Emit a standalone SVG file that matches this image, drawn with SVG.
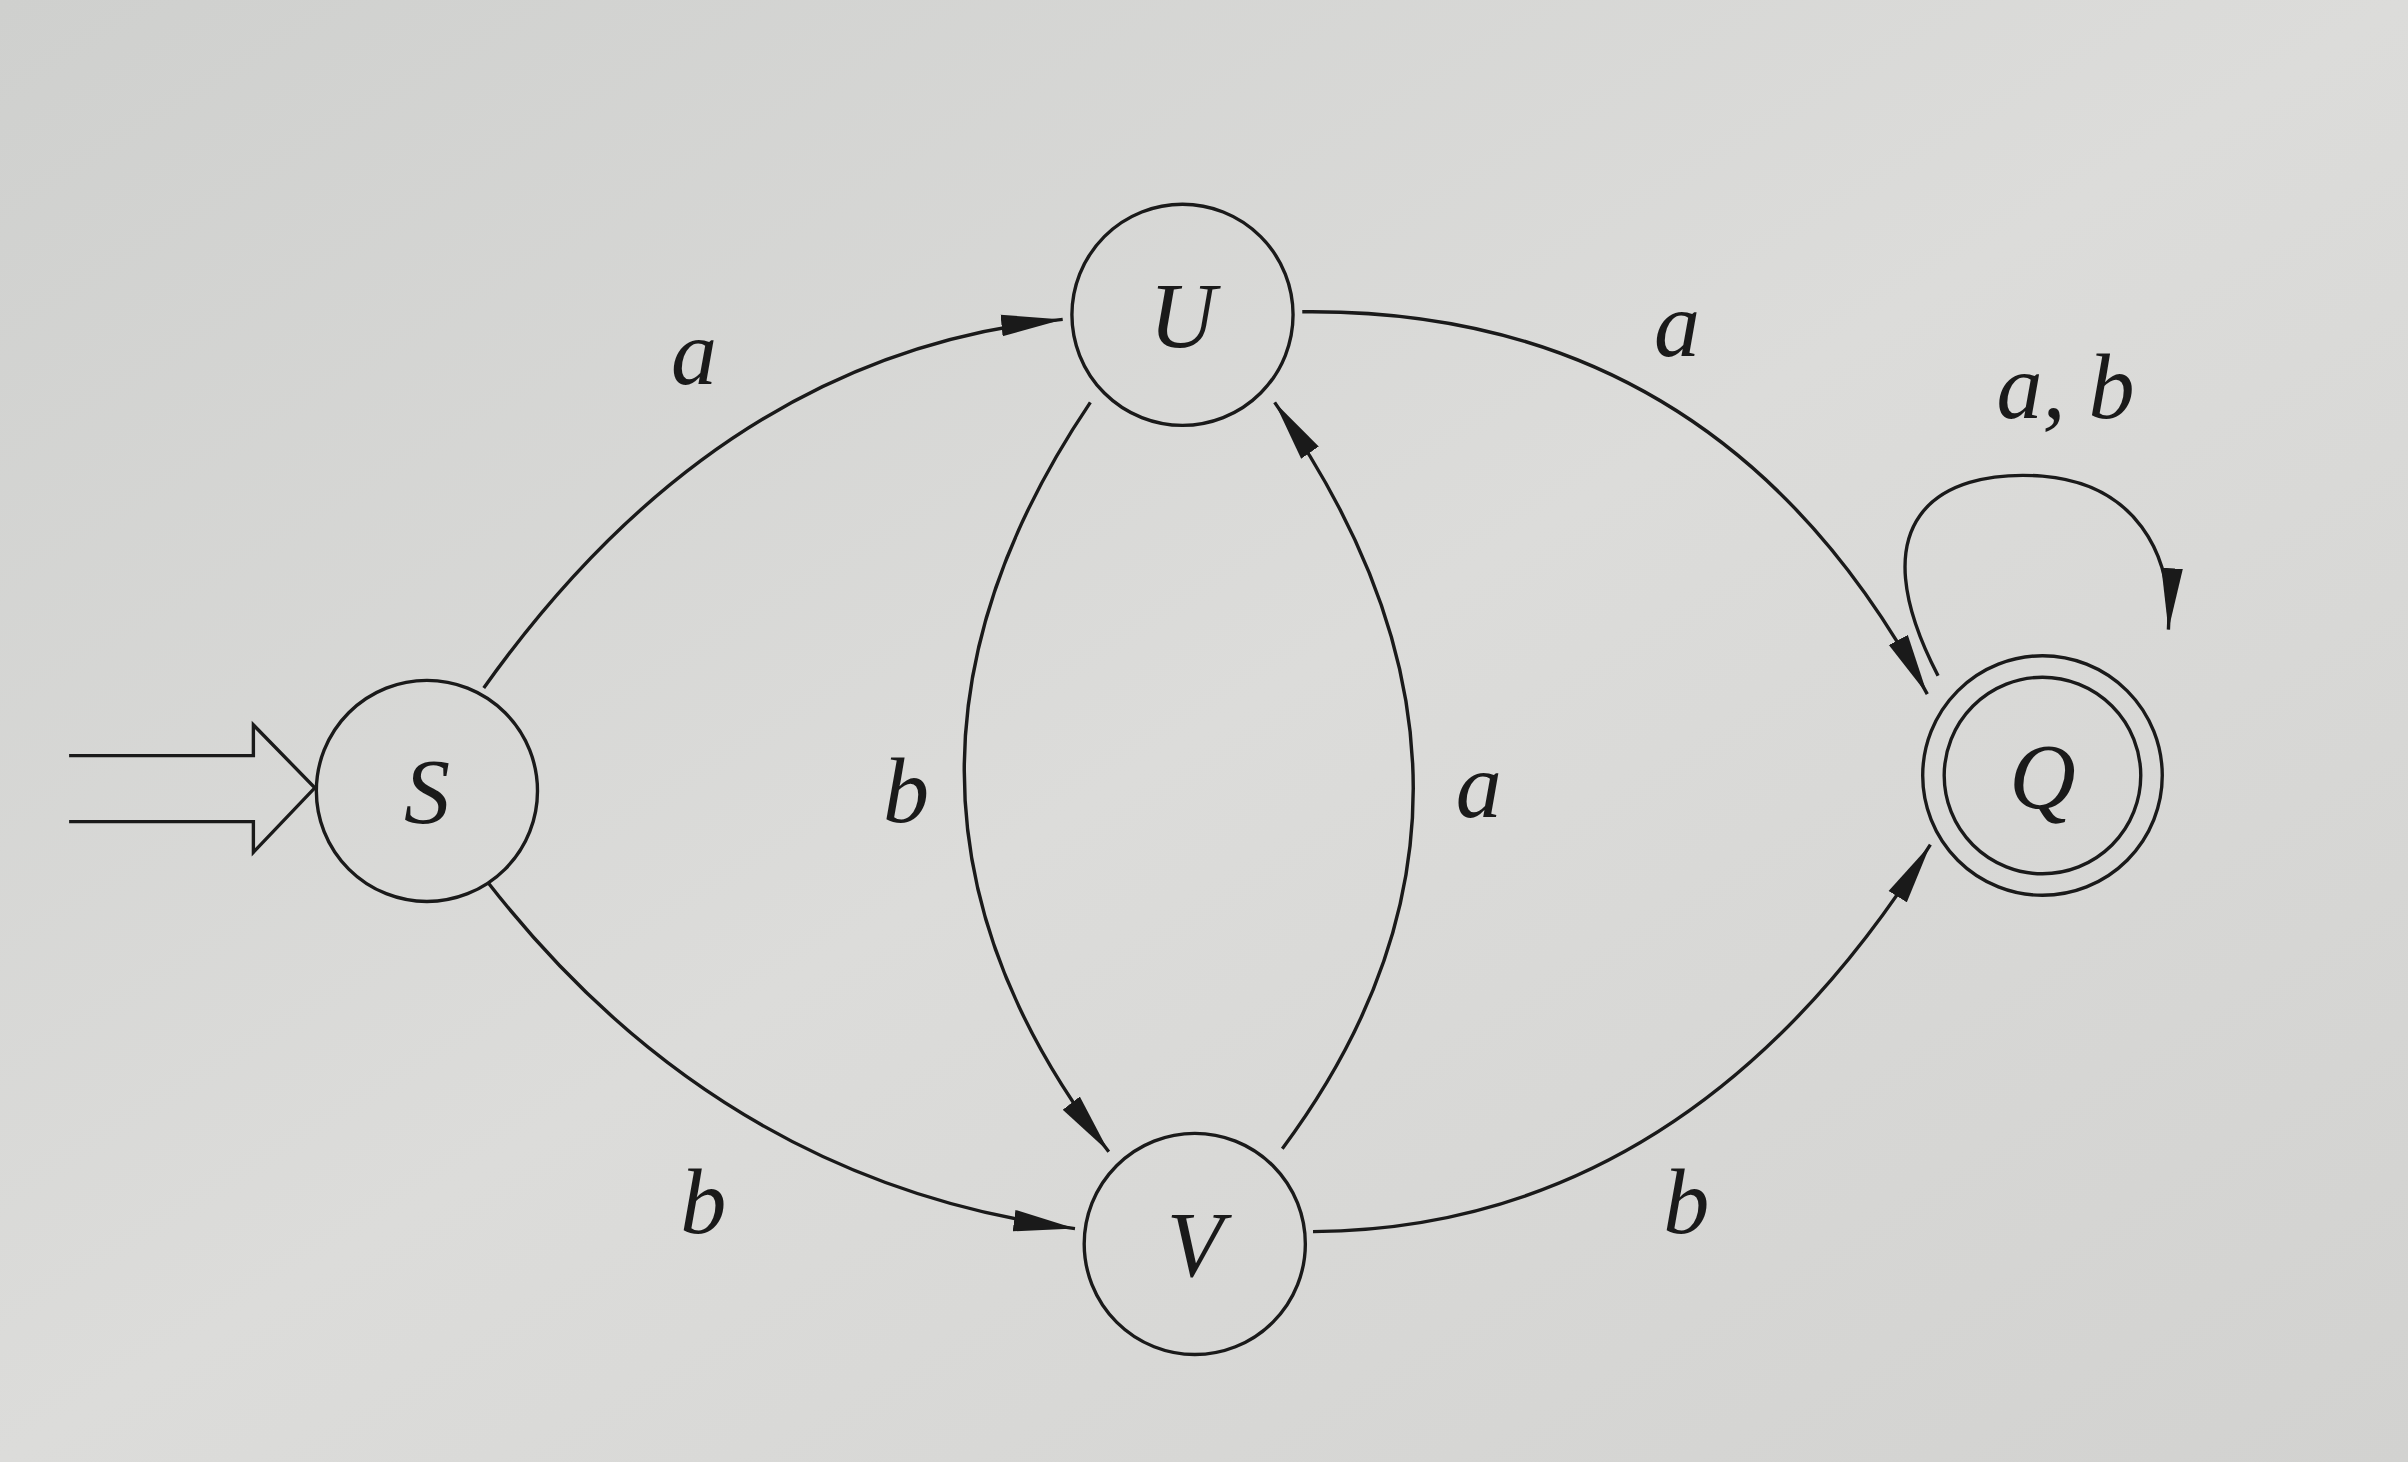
<svg xmlns="http://www.w3.org/2000/svg" width="2408" height="1462" viewBox="0 0 2408 1462">
<defs>
<marker id="ah" viewBox="0 0 40 16" refX="40" refY="8" markerWidth="40" markerHeight="16" markerUnits="userSpaceOnUse" orient="auto"><path d="M0,1 L40,8 L0,15 z" fill="#1a1a1a"/></marker>
<linearGradient id="bg" x1="0" y1="0" x2="1" y2="1"><stop offset="0" stop-color="#cfd0ce"/><stop offset="0.5" stop-color="#dcdcda"/><stop offset="1" stop-color="#d2d2d0"/></linearGradient>
</defs>
<style>
.n{fill:none;stroke:#1a1a1a;stroke-width:2.2}
.e{fill:none;stroke:#1a1a1a;stroke-width:2.2;marker-end:url(#ah)}
.t{font-family:"Liberation Serif",serif;font-style:italic;font-size:60px;fill:#1a1a1a;text-anchor:middle}
</style>
<rect width="2408" height="1462" fill="url(#bg)"/>
<g transform="scale(1.5357)">
<g id="connectors">
<path class="e" d="M315,448 Q470,230 692,208"/>
<path class="e" d="M318,575 Q470,770 700,800"/>
<path class="e" d="M710,262 Q540,514 722,750"/>
<path class="e" d="M835,748 Q1008,515 830,262"/>
<path class="e" d="M848,203 Q1120,200 1255,452"/>
<path class="e" d="M855,802 Q1100,800 1257,550"/>
<path class="e" d="M1262,440 C1210,340 1260,305 1330,310 C1390,315 1415,360 1412,410"/>
<g id="start">
<path class="n" d="M45,492 H165 V472 L205,513 L165,555 V535 H45"/>
</g>
<text class="t" x="452" y="250">a</text>
<text class="t" x="458" y="803">b</text>
<text class="t" x="590" y="535">b</text>
<text class="t" x="963" y="532">a</text>
<text class="t" x="1092" y="232">a</text>
<text class="t" x="1098" y="803">b</text>
<text class="t" x="1345" y="272">a, b</text>
</g>
<g id="S"><circle class="n" cx="278" cy="515" r="72"/><text class="t" x="278" y="536">S</text></g>
<g id="U"><circle class="n" cx="770" cy="205" r="72"/><text class="t" x="770" y="226">U</text></g>
<g id="V"><circle class="n" cx="778" cy="810" r="72"/><text class="t" x="778" y="831">V</text></g>
<g id="Q"><circle class="n" cx="1330" cy="505" r="78"/><circle class="n" cx="1330" cy="505" r="64"/><text class="t" x="1330" y="526">Q</text></g>
</g>
</svg>
